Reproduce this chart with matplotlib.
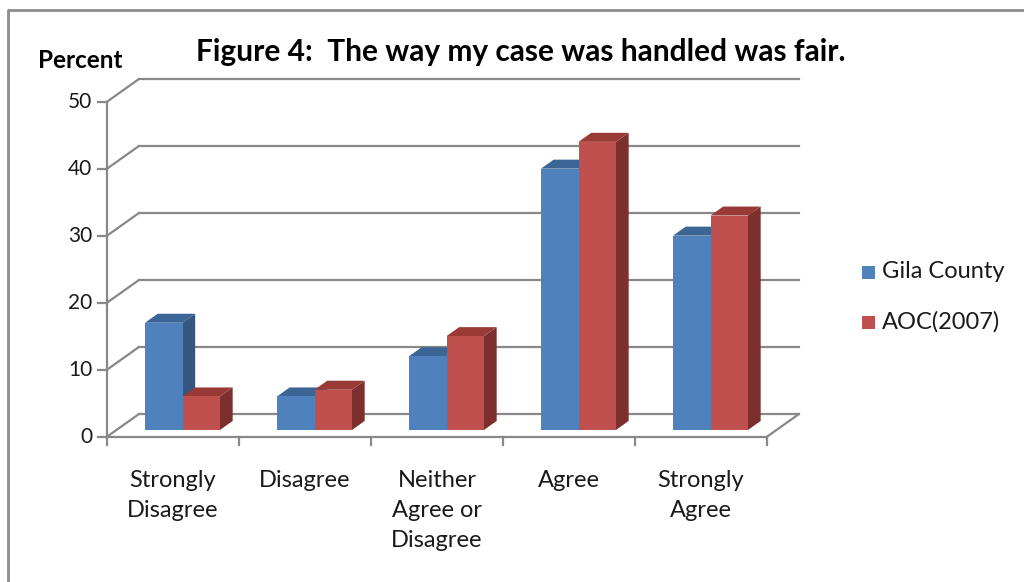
import matplotlib
matplotlib.use("Agg")
import matplotlib.pyplot as plt
from matplotlib.patches import Polygon
from matplotlib.lines import Line2D

categories = ["Strongly\nDisagree", "Disagree", "Neither\nAgree or\nDisagree", "Agree", "Strongly\nAgree"]
series_names = ["Gila County", "AOC(2007)"]
gila = [16, 5, 11, 39, 29]
aoc = [5, 6, 14, 43, 32]
yticks = [0, 10, 20, 30, 40, 50]
title = "Figure 4:  The way my case was handled was fair."
ylabel = "Percent"

front_cols = ["#4F81BD", "#C0504D"]
top_cols = ["#3A6594", "#993A37"]
side_cols = ["#34567F", "#7C2F2C"]
grid_col = "#888888"
FONT = "Lato"

W, H = 1024, 582
fig = plt.figure(figsize=(W / 100, H / 100), dpi=100)
ax = fig.add_axes([0, 0, 1, 1])
# pixel mapping: px = 107 + (x+0.5)*132 ; py = 436.7 - v*6.7
SX, SY = 132.0, 6.7
X0, Y0 = 107.0, 436.7
ax.set_xlim(-X0 / SX - 0.5, (W - X0) / SX - 0.5)
ax.set_ylim((Y0 - H) / SY, Y0 / SY)
ax.axis("off")

DX, DY = 0.24, 3.36       # full depth vector (data units)
n = len(categories)
xl, xr = -0.5, n - 0.5

# back wall gridlines and left-side diagonals
for v in yticks:
    ax.plot([xl + DX, xr + DX], [v + DY, v + DY], color=grid_col, lw=1.6, zorder=1)
    ax.plot([xl, xl + DX], [v, v + DY], color=grid_col, lw=1.6, zorder=1)
    ax.plot([xl - 0.068, xl], [v, v], color=grid_col, lw=1.6, zorder=1)
    ax.text(xl - 0.11, v, str(v), ha="right", va="center", fontsize=15,
            family=FONT, color="#1a1a1a")
# front axis and floor
ax.plot([xl, xl], [0, yticks[-1]], color=grid_col, lw=1.6, zorder=1)
ax.plot([xl, xr], [0, 0], color=grid_col, lw=1.6, zorder=1)
ax.plot([xr, xr + DX], [0, DY], color=grid_col, lw=1.6, zorder=1)
for k in range(n + 1):
    ax.plot([xl + k, xl + k], [0, -1.25], color=grid_col, lw=1.6, zorder=1)

# bars
bw = 37.5 / SX
f0, f1 = 0.3, 0.7
for i in range(n):
    for s, vals in enumerate([gila, aoc]):
        v = vals[i]
        x1 = i - bw + s * bw + f0 * DX
        x2 = x1 + bw
        yb = f0 * DY
        yt = v + f0 * DY
        ddx, ddy = (f1 - f0) * DX, (f1 - f0) * DY
        front = Polygon([(x1, yb), (x2, yb), (x2, yt), (x1, yt)], closed=True,
                        facecolor=front_cols[s], edgecolor="none", zorder=3)
        top = Polygon([(x1, yt), (x2, yt), (x2 + ddx, yt + ddy), (x1 + ddx, yt + ddy)],
                      closed=True, facecolor=top_cols[s], edgecolor="none", zorder=3)
        side = Polygon([(x2, yb), (x2 + ddx, yb + ddy), (x2 + ddx, yt + ddy), (x2, yt)],
                       closed=True, facecolor=side_cols[s], edgecolor="none", zorder=3)
        for p in (side, top, front):
            ax.add_patch(p)
    ax.text(i, -5.0, categories[i], ha="center", va="top", fontsize=17,
            family=FONT, color="#1a1a1a", linespacing=1.52)

# titles
fig.text(521 / W, 1 - 52 / H, title, ha="center", va="center", fontsize=21.5,
         family=FONT, fontweight="bold", color="black")
fig.text(80 / W, 1 - 60 / H, ylabel, ha="center", va="center", fontsize=17.5,
         family=FONT, fontweight="bold", color="black")

# legend
for s, name in enumerate(series_names):
    cy = 272 + s * 50
    fig.patches.append(matplotlib.patches.Rectangle(
        (862 / W, 1 - (cy + 6.5) / H), 13 / W, 13 / H, transform=fig.transFigure,
        facecolor=front_cols[s], edgecolor="none"))
    fig.text(882 / W, 1 - cy / H, name, ha="left", va="center", fontsize=17,
             family=FONT, color="#1a1a1a")

# outer frame (top and left edges visible)
fig.add_artist(Line2D([8 / W, 8 / W, 1.0], [0.0, 1 - 10 / H, 1 - 10 / H],
                      transform=fig.transFigure, color="#8c8c8c", lw=2))

fig.savefig("out.png", dpi=100, facecolor="white")
